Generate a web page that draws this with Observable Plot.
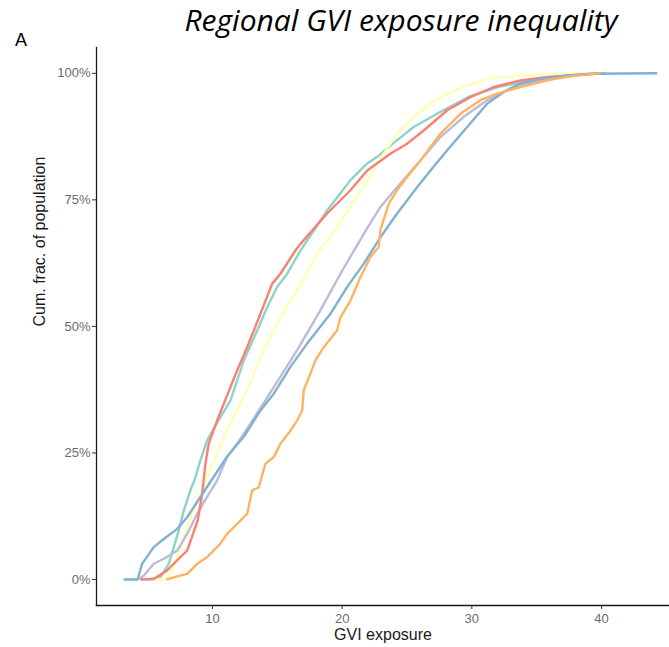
<!DOCTYPE html>
<html>
<head>
<meta charset="utf-8">
<script src="https://cdn.jsdelivr.net/npm/d3@7"></script>
<script src="https://cdn.jsdelivr.net/npm/@observablehq/plot@0.6"></script>
<style>
  html, body { margin: 0; padding: 0; background: #fff; }
  #chart { position: relative; width: 669px; height: 647px; }
</style>
</head>
<body>
<div id="chart"></div>
<script>
// Cumulative share of population (y) against GVI exposure (x), one curve per region.
const region1X = [5.0, 6.0, 6.63, 7.02, 7.4, 7.79, 8.3, 8.69, 9.07, 9.59, 10.23, 11.39, 12.42, 13.45, 14.22, 14.99, 15.76, 16.79, 18.84, 20.64, 21.93, 22.7, 24.0, 25.52, 27.58, 29.89, 32.2, 35.29, 38.37, 39.9];
const region1Y = [0, 0.5, 3.1, 6.4, 9.7, 13.6, 17.6, 20.2, 23.5, 27.5, 30.4, 35.4, 43.3, 49.2, 53.8, 57.8, 60.4, 65.0, 72.9, 78.9, 82.2, 83.5, 86.3, 89.4, 92.4, 95.5, 97.4, 99.0, 99.8, 100];

const region2X = [5.22, 6.38, 6.89, 7.28, 8.05, 8.82, 9.59, 10.36, 11.13, 12.68, 13.96, 15.24, 16.53, 18.07, 19.61, 21.16, 22.7, 24.24, 25.52, 26.81, 28.1, 29.64, 31.44, 33.75, 36.31, 38.37];
const region2Y = [0, 0, 1.8, 4.4, 10.3, 15.6, 20.2, 24.8, 29.4, 37.4, 45.3, 51.8, 57.1, 64.4, 69.6, 75.6, 82.2, 88.1, 91.4, 94.0, 96.0, 97.6, 99.0, 99.6, 99.9, 100];

const region3X = [4.3, 4.72, 5.47, 6.25, 7.28, 8.05, 8.82, 9.59, 10.36, 11.13, 11.9, 12.93, 14.73, 16.53, 18.33, 19.87, 21.67, 22.95, 24.24, 26.04, 27.58, 29.38, 31.18, 33.23, 35.29, 37.35, 38.89, 40.3];
const region3Y = [0, 0.8, 3.1, 4.1, 5.7, 9.0, 13.0, 16.3, 19.6, 24.2, 26.8, 30.8, 38.0, 45.3, 53.2, 60.4, 68.3, 73.6, 77.5, 82.8, 87.4, 91.4, 94.7, 97.3, 98.6, 99.4, 99.8, 100];

const region4X = [4.45, 5.47, 6.51, 7.28, 8.05, 8.87, 9.21, 9.46, 9.71, 10.36, 10.87, 11.9, 12.68, 13.7, 14.6, 15.24, 16.4, 16.79, 18.84, 20.64, 21.93, 23.72, 25.01, 26.29, 28.1, 29.89, 31.69, 33.75, 35.81, 38.89, 39.9];
const region4Y = [0, 0.1, 1.8, 3.8, 5.7, 11.7, 16.9, 22.9, 26.8, 31.4, 34.7, 41.3, 45.9, 52.5, 58.4, 60.4, 65.0, 66.3, 72.3, 76.9, 80.8, 84.1, 86.1, 88.7, 92.7, 95.3, 97.3, 98.6, 99.3, 99.8, 100];

const region5X = [3.15, 4.22, 4.58, 5.47, 6.25, 7.28, 8.05, 9.07, 10.1, 11.13, 12.41, 13.7, 14.73, 16.01, 17.3, 19.1, 20.39, 21.67, 22.95, 24.24, 25.78, 26.81, 28.1, 29.64, 31.18, 32.46, 33.75, 35.29, 37.35, 39.14, 44.29];
const region5Y = [0, 0, 3.1, 6.4, 8.0, 10.0, 12.3, 16.3, 20.3, 24.3, 28.2, 33.4, 36.7, 42.0, 46.6, 52.5, 57.8, 62.4, 67.6, 72.3, 77.5, 80.8, 84.8, 89.4, 94.0, 96.3, 98.0, 98.9, 99.6, 99.9, 100];

const region6X = [6.45, 7.28, 8.05, 8.82, 9.59, 10.62, 11.13, 11.9, 12.68, 13.06, 13.57, 14.09, 14.73, 15.24, 16.01, 16.53, 16.92, 17.04, 17.56, 17.94, 18.58, 19.61, 19.87, 20.64, 21.41, 22.18, 22.82, 22.95, 23.59, 24.24, 25.01, 26.04, 27.58, 29.12, 30.66, 31.95, 33.75, 35.81, 37.35, 38.89, 39.9];
const region6Y = [0, 0.6, 1.1, 3.1, 4.4, 7.1, 9.0, 11.0, 13.0, 17.6, 18.2, 22.9, 24.2, 26.8, 29.4, 31.4, 33.4, 37.4, 40.7, 43.3, 45.9, 49.2, 51.8, 55.1, 59.7, 63.7, 65.7, 69.0, 74.2, 76.9, 79.5, 82.8, 88.1, 92.0, 94.7, 96.0, 97.3, 98.6, 99.3, 99.8, 100];

// Series in drawing order (later ones sit on top), with their Set3 colours.
const seriesNames = ["R1", "R2", "R3", "R4", "R5", "R6"];
const seriesColors = ["#8DD3C7", "#FFFFB3", "#BEBADA", "#FB8072", "#80B1D3", "#FDB462"];
const seriesX = [region1X, region2X, region3X, region4X, region5X, region6X];
const seriesY = [region1Y, region2Y, region3Y, region4Y, region5Y, region6Y];

const xTicks = [10, 20, 30, 40];
const yTicks = [0, 0.25, 0.5, 0.75, 1];

const rows = seriesNames.flatMap((name, i) =>
  seriesX[i].map((x, j) => ({series: name, x, y: seriesY[i][j] / 100}))
);

const font = "'Liberation Sans', Arial, sans-serif";

const plot = Plot.plot({
  width: 669,
  height: 647,
  marginTop: 47,
  marginBottom: 42,
  marginLeft: 96,
  marginRight: 0,
  style: {fontFamily: font, background: "#fff"},
  x: {domain: [1.06, 45.24]},
  y: {domain: [-0.0514, 1.051]},
  color: {type: "ordinal", domain: seriesNames, range: seriesColors},
  marks: [
    Plot.line(rows, {x: "x", y: "y", z: "series", stroke: "series", strokeWidth: 2.4, strokeLinejoin: "round", strokeLinecap: "butt"}),
    Plot.frame({anchor: "left", stroke: "#1a1a1a", strokeWidth: 1.3}),
    Plot.frame({anchor: "bottom", stroke: "#1a1a1a", strokeWidth: 1.3}),
    Plot.axisY({ticks: yTicks, tickFormat: d3.format(".0%"), tickSize: 4, tickPadding: 2, label: null, fontSize: 13, color: "#6b6b6b", stroke: "#333"}),
    Plot.axisX({ticks: xTicks, tickSize: 4, tickPadding: 4, label: null, fontSize: 13, color: "#6b6b6b", stroke: "#333"}),
    Plot.text(["GVI exposure"], {frameAnchor: "bottom", dy: 34, fontSize: 16, fill: "#1a1a1a"}),
    Plot.text(["Cum. frac. of population"], {frameAnchor: "left", dx: -57, rotate: -90, fontSize: 16, fill: "#1a1a1a"})
  ]
});

const svg = d3.select(plot);
svg.append("text")
  .attr("x", 401).attr("y", 31)
  .attr("text-anchor", "middle")
  .style("font-family", "'Open Sans', Lato, sans-serif")
  .style("font-style", "italic")
  .style("font-size", "30px")
  .attr("fill", "#000")
  .text("Regional GVI exposure inequality");
svg.append("text")
  .attr("x", 21).attr("y", 46)
  .style("font-family", font)
  .style("font-size", "18px")
  .attr("fill", "#000")
  .text("A");

document.getElementById("chart").appendChild(plot);
</script>
</body>
</html>
